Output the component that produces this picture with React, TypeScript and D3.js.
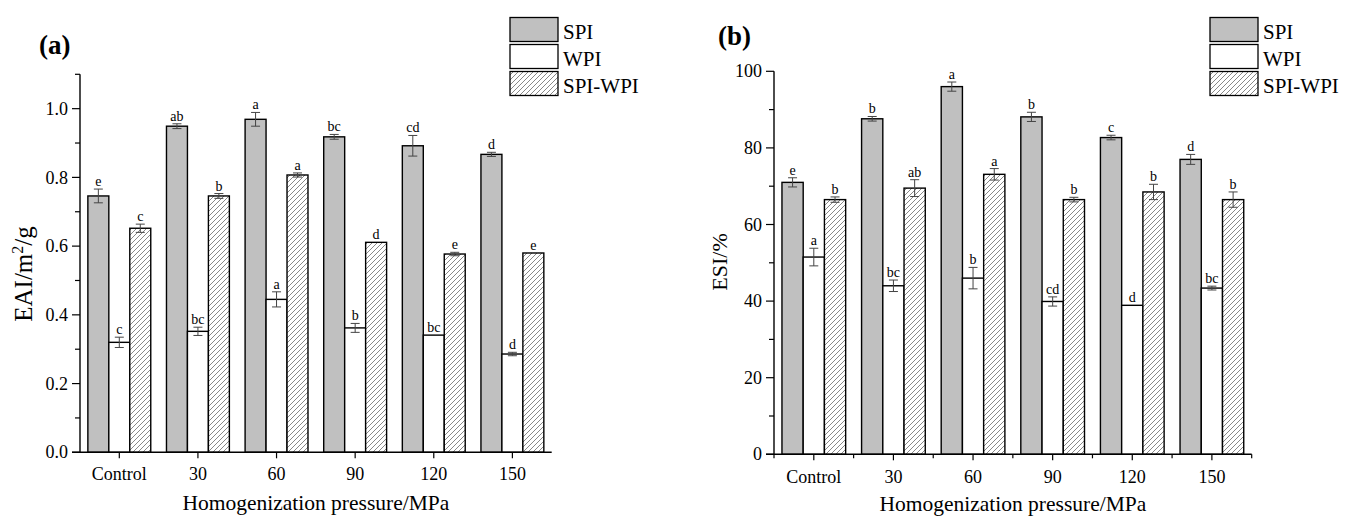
import React from "react";
import * as d3 from "d3";

const categories = ["Control", "30", "60", "90", "120", "150"];
const seriesNames = ["SPI", "WPI", "SPI-WPI"];

// Panel (a) EAI m2/g
const eaiSPI = [0.746, 0.949, 0.969, 0.918, 0.892, 0.867];
const eaiSPIErr = [0.02, 0.007, 0.02, 0.007, 0.03, 0.006];
const eaiWPI = [0.32, 0.352, 0.445, 0.362, 0.341, 0.286];
const eaiWPIErr = [0.015, 0.012, 0.022, 0.013, 0.0, 0.005];
const eaiMix = [0.652, 0.746, 0.807, 0.611, 0.577, 0.58];
const eaiMixErr = [0.012, 0.007, 0.006, 0.0, 0.005, 0.0];
const eaiSPILetters = ["e", "ab", "a", "bc", "cd", "d"];
const eaiWPILetters = ["c", "bc", "a", "b", "bc", "d"];
const eaiMixLetters = ["c", "b", "a", "d", "e", "e"];
const eaiMajorTicks = [0, 0.2, 0.4, 0.6, 0.8, 1.0];
const eaiMinorTicks = [0.1, 0.3, 0.5, 0.7, 0.9, 1.1];

// Panel (b) ESI %
const esiSPI = [71.0, 87.6, 96.0, 88.1, 82.7, 77.0];
const esiSPIErr = [1.2, 0.6, 1.2, 1.2, 0.6, 1.3];
const esiWPI = [51.5, 44.0, 46.0, 39.9, 38.9, 43.4];
const esiWPIErr = [2.3, 1.5, 2.8, 1.2, 0.0, 0.5];
const esiMix = [66.5, 69.5, 73.1, 66.5, 68.5, 66.5];
const esiMixErr = [0.7, 2.2, 1.5, 0.6, 2.0, 2.0];
const esiSPILetters = ["e", "b", "a", "b", "c", "d"];
const esiWPILetters = ["a", "bc", "b", "cd", "d", "bc"];
const esiMixLetters = ["b", "ab", "a", "b", "b", "b"];
const esiMajorTicks = [0, 20, 40, 60, 80, 100];
const esiMinorTicks = [10, 30, 50, 70, 90];

const FONT = "'Liberation Serif', 'Times New Roman', serif";

type PanelProps = {
  label: string;
  labelX: number;
  labelY: number;
  x0: number;
  x1: number;
  yBottom: number;
  yTop: number;
  yMax: number;
  values: number[][];
  errors: number[][];
  letters: string[][];
  major: number[];
  minor: number[];
  fmt: (v: number) => string;
  yTitle: React.ReactNode;
  yTitleX: number;
  yTitleY: number;
  yTitleSize: number;
  xTitleY: number;
  tickLabelDy: number;
  boundaryTicks: boolean;
  legendX: number;
};

function Panel(p: PanelProps) {
  const x = d3.scaleBand<string>().domain(categories).range([p.x0, p.x1]).padding(0);
  const y = d3.scaleLinear().domain([0, p.yMax]).range([p.yBottom, p.yTop]);
  const group = x.bandwidth() * 0.8;
  const barW = group / 3;
  const fills = ["#c0c0c0", "#ffffff", "url(#hatch)"];
  const bars: React.ReactNode[] = [];
  const errs: React.ReactNode[] = [];
  const lets: React.ReactNode[] = [];
  categories.forEach((c, i) => {
    const cx = (x(c) as number) + x.bandwidth() / 2;
    p.values.forEach((vals, s) => {
      const v = vals[i];
      const e = p.errors[s][i];
      const bx = cx - group / 2 + s * barW;
      bars.push(
        <rect key={`b${s}-${i}`} x={bx} y={y(v)} width={barW} height={y(0) - y(v)}
          fill={fills[s]} stroke="#000" strokeWidth={1.4} />
      );
      const mx = bx + barW / 2;
      if (e > 0) {
        errs.push(
          <g key={`e${s}-${i}`} stroke="#444" strokeWidth={1}>
            <line x1={mx} x2={mx} y1={y(v + e)} y2={y(v - e)} />
            <line x1={mx - 4.5} x2={mx + 4.5} y1={y(v + e)} y2={y(v + e)} />
            <line x1={mx - 4.5} x2={mx + 4.5} y1={y(v - e)} y2={y(v - e)} />
          </g>
        );
      }
      lets.push(
        <text key={`l${s}-${i}`} x={mx} y={y(v + e) - 3} textAnchor="middle" fontSize={14} fontFamily={FONT} fill="#000">
          {p.letters[s][i]}
        </text>
      );
    });
  });
  const axisX = p.x0;
  return (
    <g>
      <text x={p.labelX} y={p.labelY} fontSize={27} fontWeight="bold" fontFamily={FONT}>{p.label}</text>
      {bars}
      {errs}
      {lets}
      <line x1={axisX} x2={axisX} y1={y(p.yMax)} y2={y(0)} stroke="#000" strokeWidth={1.4} />
      {p.major.map((t) => (
        <g key={`mj${t}`}>
          <line x1={axisX - 8} x2={axisX} y1={y(t)} y2={y(t)} stroke="#000" strokeWidth={1.2} />
          <text x={axisX - 12} y={y(t)} dy="0.34em" textAnchor="end" fontSize={18} fontFamily={FONT}>{p.fmt(t)}</text>
        </g>
      ))}
      {p.minor.map((t) => (
        <line key={`mn${t}`} x1={axisX - 5} x2={axisX} y1={y(t)} y2={y(t)} stroke="#000" strokeWidth={1.2} />
      ))}
      <line x1={axisX - 8} x2={p.x1} y1={y(0)} y2={y(0)} stroke="#000" strokeWidth={1.4} />
      {categories.map((c) => {
        const cx = (x(c) as number) + x.bandwidth() / 2;
        return (
          <g key={`xt${c}`}>
            <line x1={cx} x2={cx} y1={y(0)} y2={y(0) + 6} stroke="#000" strokeWidth={1.2} />
            <text x={cx} y={y(0) + p.tickLabelDy} textAnchor="middle" fontSize={18} fontFamily={FONT}>{c}</text>
          </g>
        );
      })}
      {p.boundaryTicks && categories.map((c) => (
        <line key={`bt${c}`} x1={x(c) as number} x2={x(c) as number}
          y1={y(0)} y2={y(0) + 4} stroke="#000" strokeWidth={1.2} />
      ))}
      {p.boundaryTicks && (
        <line x1={p.x1} x2={p.x1} y1={y(0)} y2={y(0) + 4} stroke="#000" strokeWidth={1.2} />
      )}
      <text x={(p.x0 + p.x1) / 2} y={p.xTitleY} textAnchor="middle" fontSize={21.5} fontFamily={FONT}>
        Homogenization pressure/MPa
      </text>
      <text transform={`translate(${p.yTitleX},${p.yTitleY}) rotate(-90)`} textAnchor="middle"
        dy="0.35em" fontSize={p.yTitleSize} fontFamily={FONT}>
        {p.yTitle}
      </text>
      {seriesNames.map((n, s) => (
        <g key={`lg${n}`}>
          <rect x={p.legendX} y={17.5 + s * 27} width={48} height={24} fill={fills[s]} stroke="#000" strokeWidth={1.3} />
          <text x={p.legendX + 53} y={38.5 + s * 27} fontSize={21} fontFamily={FONT}>{n}</text>
        </g>
      ))}
    </g>
  );
}

export default function App() {
  return (
    <svg width={1339} height={509} style={{ display: "block" }}>
      <defs>
        <pattern id="hatch" patternUnits="userSpaceOnUse" width={5} height={5}>
          <rect width={5} height={5} fill="#fff" />
          <path d="M-1,1 l2,-2 M0,5 l5,-5 M4,6 l2,-2" stroke="#555" strokeWidth={0.7} />
        </pattern>
      </defs>
      <g transform="translate(-8,-8)">
        <Panel
          label="(a)" labelX={39} labelY={54}
          x0={80} x1={551.7} yBottom={452.3} yTop={74.3} yMax={1.1}
          values={[eaiSPI, eaiWPI, eaiMix]}
          errors={[eaiSPIErr, eaiWPIErr, eaiMixErr]}
          letters={[eaiSPILetters, eaiWPILetters, eaiMixLetters]}
          major={eaiMajorTicks} minor={eaiMinorTicks}
          fmt={(v) => v.toFixed(1)}
          yTitle={<>EAI/m<tspan dy="-9" fontSize={16}>2</tspan><tspan dy="9">/g</tspan></>}
          yTitleX={23} yTitleY={274} yTitleSize={25}
          xTitleY={510} tickLabelDy={28} boundaryTicks={false}
          legendX={510}
        />
        <Panel
          label="(b)" labelX={718} labelY={45}
          x0={774} x1={1251.7} yBottom={454.3} yTop={71.3} yMax={100}
          values={[esiSPI, esiWPI, esiMix]}
          errors={[esiSPIErr, esiWPIErr, esiMixErr]}
          letters={[esiSPILetters, esiWPILetters, esiMixLetters]}
          major={esiMajorTicks} minor={esiMinorTicks}
          fmt={(v) => String(v)}
          yTitle={<>ESI/%</>}
          yTitleX={719} yTitleY={262} yTitleSize={22}
          xTitleY={511} tickLabelDy={29} boundaryTicks={true}
          legendX={1210}
        />
      </g>
    </svg>
  );
}
